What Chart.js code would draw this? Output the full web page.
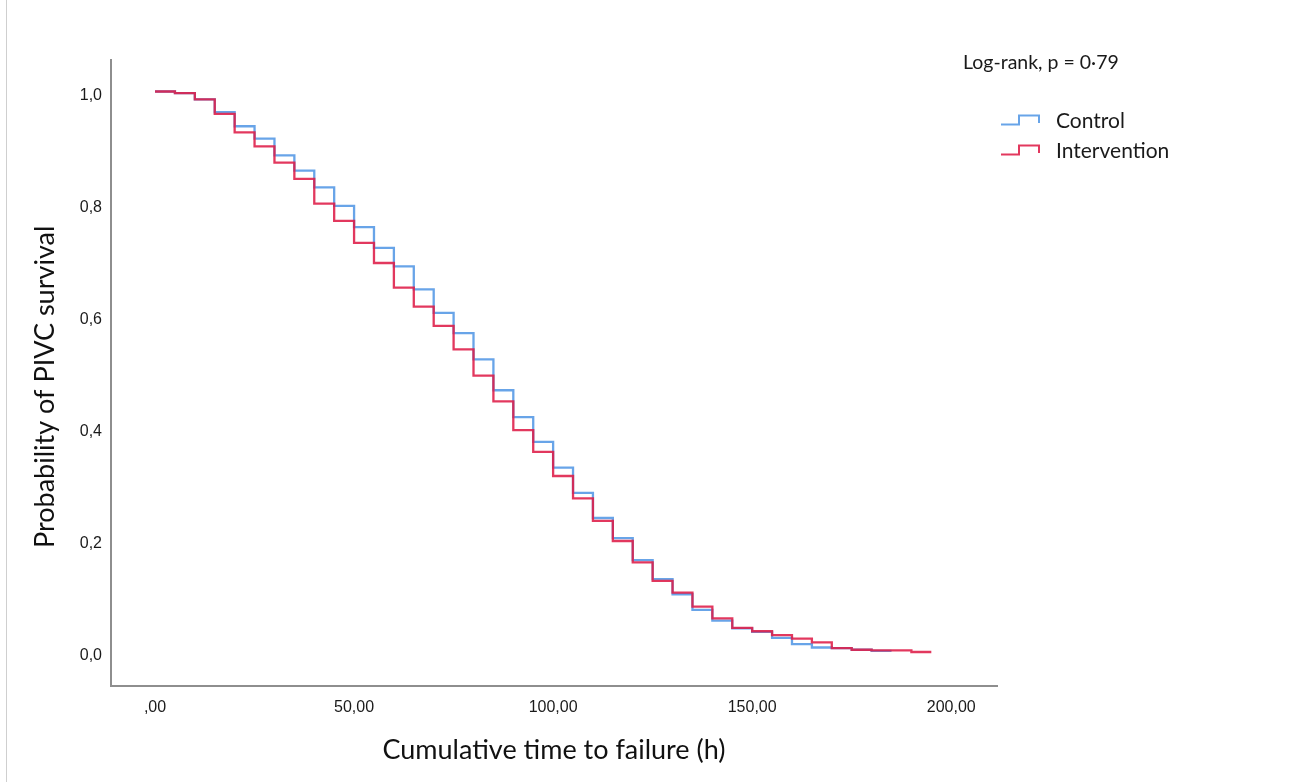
<!DOCTYPE html>
<html>
<head>
<meta charset="utf-8">
<script src="https://cdn.jsdelivr.net/npm/chart.js@4.4.1/dist/chart.umd.min.js"></script>
<style>
  html, body { margin: 0; padding: 0; background: #fff; }
  #wrap { position: relative; width: 1305px; height: 782px; overflow: hidden; }
  #edge { position: absolute; left: 6px; top: 0; width: 1px; height: 782px; background: #cfcfcf; }
  .txt { position: absolute; font-family: Lato, sans-serif; font-size: 21px; line-height: 24px; color: #1a1a1a; white-space: nowrap; }
  .icon { position: absolute; }
</style>
</head>
<body>
<div id="wrap">
  <canvas id="km" width="1305" height="782"></canvas>
  <div id="edge"></div>
  <div class="txt" id="logrank" style="left:963px; top:50px; font-size:19.5px;"></div>
  <div id="legend"></div>
</div>
<script>
// Kaplan-Meier style survival estimates (level held from each time on)
const controlTimes = [0, 5, 10, 15, 20, 25, 30, 35, 40, 45, 50, 55, 60, 65, 70, 75, 80, 85, 90, 95,
  100, 105, 110, 115, 120, 125, 130, 135, 140, 145, 150, 155, 160, 165, 170, 175, 180, 185];
const controlSurv = [1.000, 0.997, 0.986, 0.963, 0.938, 0.916, 0.886, 0.859, 0.829, 0.796,
  0.758, 0.721, 0.688, 0.647, 0.605, 0.569, 0.522, 0.467, 0.419, 0.375,
  0.329, 0.284, 0.239, 0.203, 0.164, 0.130, 0.103, 0.075, 0.056, 0.042,
  0.036, 0.025, 0.014, 0.008, 0.007, 0.004, 0.002, 0.002];

const interventionTimes = [0, 5, 10, 15, 20, 25, 30, 35, 40, 45, 50, 55, 60, 65, 70, 75, 80, 85, 90, 95,
  100, 105, 110, 115, 120, 125, 130, 135, 140, 145, 150, 155, 160, 165, 170, 175, 180, 185, 190, 195];
const interventionSurv = [1.000, 0.997, 0.986, 0.960, 0.927, 0.902, 0.873, 0.844, 0.800, 0.769,
  0.730, 0.694, 0.650, 0.616, 0.582, 0.540, 0.493, 0.447, 0.396, 0.357,
  0.314, 0.274, 0.234, 0.198, 0.160, 0.127, 0.106, 0.081, 0.060, 0.043,
  0.037, 0.030, 0.024, 0.017, 0.007, 0.004, 0.003, 0.003, 0.000, 0.000];

const groupNames = ['Control', 'Intervention'];
const groupColors = ['rgba(88,154,230,0.9)', 'rgba(222,28,72,0.88)'];
const xTickValues = [0, 50, 100, 150, 200];
const yTickValues = [0, 0.2, 0.4, 0.6, 0.8, 1.0];
const pValueText = 'Log-rank, p = 0·79';

const toPoints = (ts, vs) => ts.map((t, i) => ({ x: t, y: vs[i] }));

const tickFont = { family: '"Liberation Sans", Arial, sans-serif', size: 16 };
const titleFont = { family: 'Lato, sans-serif', size: 27 };

const chart = new Chart(document.getElementById('km'), {
  type: 'line',
  data: {
    datasets: [
      {
        label: groupNames[0],
        data: toPoints(controlTimes, controlSurv),
        borderColor: groupColors[0],
        order: 2
      },
      {
        label: groupNames[1],
        data: toPoints(interventionTimes, interventionSurv),
        borderColor: groupColors[1],
        order: 1
      }
    ]
  },
  options: {
    responsive: false,
    animation: false,
    datasets: {
      line: { stepped: true, borderWidth: 2.3, pointRadius: 0, fill: false, tension: 0 }
    },
    layout: { padding: { top: 60, right: 308, bottom: 0, left: 0 } },
    plugins: { legend: { display: false }, tooltip: { enabled: false } },
    scales: {
      x: {
        type: 'linear',
        min: -11.06,
        max: 211.5,
        grid: { display: false, drawTicks: false },
        border: { display: true, color: '#8e8e8e', width: 2 },
        afterBuildTicks: s => { s.ticks = xTickValues.map(v => ({ value: v })); },
        afterFit: s => { s.height = 96; },
        ticks: {
          font: tickFont,
          color: '#1a1a1a',
          padding: 12,
          maxRotation: 0,
          callback: v => v === 0 ? ',00' : v.toFixed(2).replace('.', ',')
        },
        title: {
          display: true,
          text: 'Cumulative time to failure (h)',
          font: titleFont,
          color: '#111',
          padding: { top: 0, bottom: 16 }
        }
      },
      y: {
        type: 'linear',
        min: -0.0607,
        max: 1.0562,
        grid: { display: false, drawTicks: false },
        border: { display: true, color: '#8e8e8e', width: 2 },
        afterBuildTicks: s => { s.ticks = yTickValues.map(v => ({ value: v })); },
        afterFit: s => { s.width = 111; },
        ticks: {
          font: tickFont,
          color: '#1a1a1a',
          padding: 9,
          labelOffset: 4,
          callback: v => v.toFixed(1).replace('.', ',')
        },
        title: {
          display: true,
          // trailing no-break spaces nudge the rotated title down a little, as in the original
          text: 'Probability of PIVC survival\u00a0\u00a0\u00a0\u00a0',
          font: titleFont,
          color: '#111',
          padding: { top: 29, bottom: 0 }
        }
      }
    }
  }
});

// legend + log-rank note, built from the dataset labels/colours
document.getElementById('logrank').textContent = pValueText;
const legend = document.getElementById('legend');
const legendTops = [108, 138];
chart.data.datasets.forEach((ds, i) => {
  const top = legendTops[i];
  const svg = '<svg class="icon" width="42" height="16" style="left:1000px; top:' + (top + 5) + 'px">' +
    '<path d="M1 11.5 H19 V2.5 H39 V10" fill="none" stroke="' + ds.borderColor + '" stroke-width="2"/></svg>';
  legend.insertAdjacentHTML('beforeend', svg +
    '<div class="txt" style="left:1056px; top:' + top + 'px;">' + ds.label + '</div>');
});
</script>
</body>
</html>
